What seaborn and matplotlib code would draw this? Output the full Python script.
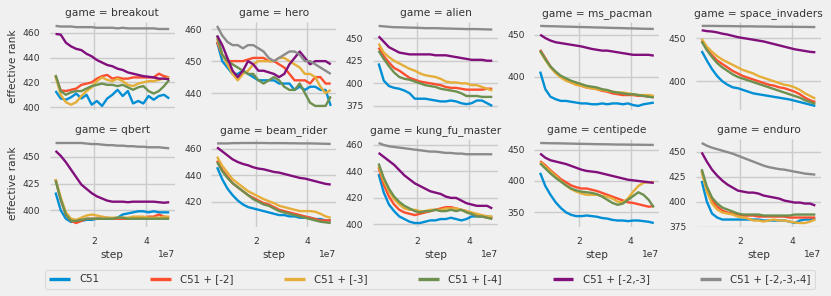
import numpy as np
import pandas as pd
import matplotlib
matplotlib.use('Agg')
import matplotlib.pyplot as plt
import seaborn as sns
from matplotlib.lines import Line2D
from matplotlib.ticker import MaxNLocator

steps = [5e6, 7e6, 9e6, 11e6, 13e6, 15e6, 17e6, 19e6, 21e6, 23e6, 25e6, 27e6,
         29e6, 31e6, 33e6, 35e6, 37e6, 39e6, 41e6, 43e6, 45e6, 47e6, 49e6]

games = ['breakout', 'hero', 'alien', 'ms_pacman', 'space_invaders',
         'qbert', 'beam_rider', 'kung_fu_master', 'centipede', 'enduro']
series = ['C51', 'C51 + [-2]', 'C51 + [-3]', 'C51 + [-4]', 'C51 + [-2,-3]', 'C51 + [-2,-3,-4]']
colors = ['#008fd5', '#fc4f30', '#e5ae38', '#6d904f', '#810f7c', '#8b8b8b']

breakout = [
    [413, 407, 406, 408, 411, 407, 410, 402, 405, 401, 407, 410, 414, 409, 413, 403, 405, 403, 409, 406, 409, 410, 407],
    [425, 413.5, 413, 414, 415, 418, 419, 420, 423, 425, 426, 423, 424, 423, 423, 424, 424, 424, 424, 424, 427, 425, 424],
    [425, 410, 404, 402, 404, 409, 413, 416, 421, 424, 422, 421, 423, 421, 418, 417, 419, 420, 421, 421, 422, 423, 424],
    [426, 413, 410, 412, 413, 413, 415, 417, 418, 419, 418, 418, 417, 418, 416, 414, 416, 417, 413, 411, 413, 417, 422],
    [459, 458.5, 452, 449, 447, 446, 443, 441, 438, 436, 434, 433, 431, 430, 428, 427, 426, 425, 424.5, 424, 423, 423, 422.5],
    [465.5, 465, 465, 465, 464.5, 464.5, 464.5, 464.5, 464, 464, 464, 464, 463.5, 464, 463.5, 463.5, 463.5, 463.5, 463.5, 463.5, 463, 463, 463],
]
hero = [
    [456, 450, 448, 446, 446, 447, 446, 445, 444, 444, 444, 444, 443, 443, 443, 441, 442, 441, 442, 442, 441, 441, 436],
    [456, 452, 450, 450, 450, 450, 450.5, 451, 451, 451, 450, 450, 449, 448, 446, 444, 444, 444, 443, 445, 445, 443, 443],
    [457, 452, 449, 446, 444, 446, 447, 449, 450, 450, 450, 450, 451, 451, 450, 449, 448, 446, 446, 445, 442, 440, 441],
    [458, 452, 450, 449, 448, 447, 446, 446, 444, 443, 444, 445, 444, 442, 441, 441, 443, 440, 437, 436, 436, 436, 439],
    [458, 455, 451, 447, 445, 447, 450, 449, 447, 447, 446.5, 446, 445, 446, 449, 451, 453, 451, 449, 450, 450, 450, 449],
    [461, 458, 456, 455, 455, 454, 455, 455, 454, 453, 451, 450, 451, 452, 453, 453, 452, 450, 450, 449, 448, 447, 446],
]
alien = [
    [422, 403, 397, 395, 394, 392, 389, 383, 383, 383, 382, 381, 380, 380, 381, 380, 378, 377, 378, 381, 381, 378, 375],
    [439.5, 430, 423, 417, 414, 410, 406, 404, 402, 401, 400, 399, 398, 396, 395, 395, 394, 393, 393, 393, 393, 394, 394],
    [444, 434, 429, 425, 422, 419, 416, 414, 411, 409, 408, 407, 405, 402, 401, 401, 400, 400, 398, 398, 396, 394, 392],
    [436, 427, 419, 412, 407, 405, 404, 402, 400, 398, 397, 396, 394, 393, 392, 391, 389, 386, 386, 386, 385, 385, 385],
    [452, 446, 440, 437, 434, 433, 432, 432, 432, 432, 432, 431, 431, 431, 430, 429, 428, 427, 426, 426, 426, 425, 425],
    [463.5, 463, 462.5, 462, 462, 461.8, 461.6, 461.5, 461.3, 461, 461, 461, 460.8, 460.6, 460.5, 460.3, 460.2, 460, 460, 460, 459.8, 459.6, 459.5],
]
ms_pacman = [
    [406, 385, 376, 373, 371, 371, 370, 369, 368, 368, 367, 367, 368, 367, 368, 368, 367, 368, 366, 365, 367, 368, 369],
    [432, 422, 412, 405, 400, 396, 393, 391, 389, 387, 386, 385, 383, 382, 380, 379, 378, 378, 378, 377, 377, 376, 376],
    [430, 420, 411, 404, 399, 395, 393, 390, 389, 387, 386, 385, 384, 383, 382, 381, 381, 380, 379, 378, 378, 378, 377],
    [431, 421, 412, 406, 401, 398, 395, 393, 391, 389, 388, 387, 385, 384, 382, 381, 380, 379, 379, 378, 377, 376, 375],
    [450, 446, 443, 441, 440, 439, 438, 437, 436, 434.5, 433, 432, 431, 431, 430, 429, 428, 427, 426, 426, 426, 426, 425],
    [460.5, 460.3, 460.1, 460, 459.8, 459.6, 459.5, 459.3, 459.1, 459, 458.8, 458.6, 458.5, 458.3, 458.1, 458, 457.8, 457.6, 457.5, 457.3, 457.1, 457, 456.9],
]
space_invaders = [
    [435, 424, 414, 406, 400, 396, 393, 392, 390, 388, 386, 385, 384, 383, 382, 381, 380, 379, 377.5, 376, 374.5, 373, 371.5],
    [447, 437, 430, 424, 420, 416, 412, 409, 406, 404, 402, 400, 398, 396, 395, 393, 392, 390, 388, 385, 381, 378, 376],
    [449, 440, 434, 429, 425, 422, 419, 416, 413, 411, 409, 406, 404, 402, 400, 398, 396, 395, 393, 390, 386, 383, 380],
    [446, 436, 428, 421, 416, 412, 408, 405, 403, 401, 399, 397, 395, 393, 391, 389, 387, 385, 383, 381, 378, 376, 374],
    [459, 458, 457.5, 456.5, 455, 454, 452.5, 451, 450, 449, 448, 447, 446, 444.5, 443, 441.5, 440, 438.5, 437, 436, 435, 434, 433.5],
    [464, 464, 464, 463.9, 463.8, 463.8, 463.7, 463.6, 463.5, 463.5, 463.4, 463.3, 463.3, 463.2, 463.1, 463, 463, 463, 462.9, 462.8, 462.8, 462.7, 462.7],
]
qbert = [
    [416.6, 400, 392, 389, 390, 390, 391, 391, 392, 392, 392, 392, 393, 396, 397, 398, 399, 399, 398, 399, 398, 398, 398],
    [429, 410, 396, 390, 388, 390, 392, 392, 392, 392, 393, 392, 392, 392, 392, 393, 393, 393, 394, 394, 396, 394, 393],
    [429, 412, 398, 392, 391, 393, 395, 396, 395, 394, 393, 393, 393, 393, 393, 394, 394, 394, 393, 393, 393, 394, 394],
    [428, 410, 396, 390, 390, 391, 392, 392, 392, 392, 392, 392, 393, 393, 392, 392, 392, 392, 392, 392, 392, 392, 392],
    [455.6, 451, 445, 438, 431, 424, 420, 416, 413, 411, 409, 408, 408, 408, 407.5, 408, 408, 408, 408, 408, 407.5, 407, 407.5],
    [463, 463, 463, 463, 463, 463, 462.5, 462, 462, 461.5, 461, 461, 460.5, 460.5, 460, 460, 459.5, 459.5, 459, 459, 459, 458.5, 458],
]
beam_rider = [
    [446, 437, 430, 425, 421, 418, 416, 415, 414, 413, 412, 411, 410, 410, 409, 409, 408, 408, 408, 407, 407, 406, 406],
    [451, 444, 439, 434, 431, 428, 425, 423, 421, 419, 418, 416, 414, 413, 412, 411, 410, 409, 408, 407, 406, 406, 406],
    [454, 447, 442, 437, 434, 431, 428, 426, 424, 422, 420.5, 419, 417, 416, 415, 414, 413, 413, 413, 412.5, 411, 409, 408],
    [450, 443, 438, 434, 431, 428, 425, 422, 420, 418, 417, 415, 413, 412, 411, 410, 409, 408, 407, 406, 405, 404.5, 404],
    [461, 458, 455, 452, 450, 448.5, 447.5, 446, 445, 444.5, 443.5, 442.5, 442, 441, 440, 439, 438, 437.5, 436.5, 435.5, 434.5, 433.5, 433],
    [464, 464, 464, 464.2, 464.2, 464.3, 464.3, 464.3, 464.3, 464.3, 464.2, 464.2, 464.2, 464.2, 464.1, 464.1, 464, 464, 464, 463.9, 463.8, 463.7, 463.6],
]
kung_fu_master = [
    [438, 424, 415, 410, 406, 404, 402, 401, 401, 402, 403, 403, 404, 404, 405, 404, 403, 404, 406, 406, 406, 406, 405],
    [443, 430, 421, 415, 411, 409, 408, 407, 408, 409, 410, 411, 412, 413, 413, 412, 411, 410, 408, 407, 406, 405, 405],
    [444, 433, 425, 419, 415, 412, 411, 411, 410, 410, 411, 411, 411, 412, 412, 412, 411, 410, 409, 408, 407, 406, 406],
    [446, 435, 427, 421, 417, 414, 412, 410, 409, 410, 410, 411, 410, 410, 411, 410, 411, 409, 408, 406, 406, 405, 404],
    [454, 451, 448, 445, 441, 437, 434, 431, 429, 427, 425, 424, 423, 421, 420, 420, 418, 416, 415, 414, 414, 414, 412],
    [461.5, 460, 459, 458.5, 458, 457.5, 457, 456.5, 456, 455.5, 455, 455, 454.5, 454, 454, 453.5, 453.5, 453, 453, 453, 453, 453, 453],
]
centipede = [
    [413, 392, 378, 366, 357, 350, 346, 344, 344, 345, 344, 343, 341, 340, 338, 337, 337, 336, 337, 337, 336, 335, 333],
    [431.6, 425, 417, 410, 403, 398, 393, 390, 388, 388, 386, 384, 381, 378, 375, 372, 369, 366, 365, 363, 361, 359, 360],
    [430, 423, 415, 408, 400, 393, 387, 383, 380, 378, 378, 378, 376, 375, 372, 367, 366, 372, 383, 392, 397, 398, 398],
    [428, 420, 412, 405, 399, 393, 388, 385, 383, 382, 381, 379, 375, 370, 365, 362, 364, 370, 376, 382, 378, 370, 358],
    [443.7, 437, 433, 431, 429, 427, 424, 421, 418, 416, 415, 414, 412, 410, 408, 406, 404, 402, 401, 400, 399, 398, 397],
    [460.5, 460.3, 460.1, 460, 459.9, 459.7, 459.5, 459.3, 459.1, 459, 458.8, 458.6, 458.5, 458.4, 458.2, 458, 458, 457.9, 457.8, 457.7, 457.6, 457.5, 457.4],
]
enduro = [
    [420.7, 400, 388, 384, 382, 382, 382, 382, 382, 382, 382, 382, 381, 381, 381, 381, 381, 380, 378.5, 381, 382, 382, 383],
    [431, 412, 401, 395, 391, 389, 388, 387, 386, 386, 386, 385, 385, 385, 385, 385, 385, 384, 384, 384, 384, 384, 384],
    [430, 410, 398, 392, 389, 388, 387, 385, 384, 383, 381, 381, 380, 381, 382, 381, 381, 380, 379, 378.5, 378.5, 380, 382],
    [432.5, 415, 404, 398, 394, 392, 390, 388, 387, 387, 387, 387, 386, 386, 386, 386, 386, 386, 387, 387, 387, 387, 387],
    [449.3, 440, 432, 426, 421, 417, 414, 411, 410, 409, 409, 408, 406, 405, 404, 403, 401, 400, 399, 399, 398, 398, 396],
    [458.7, 456, 454, 452.5, 451, 449.5, 448, 446, 444, 442, 440, 438, 436, 434.5, 433.5, 432.5, 432, 431, 430, 429, 428, 427.5, 427],
]

tables = [breakout, hero, alien, ms_pacman, space_invaders,
          qbert, beam_rider, kung_fu_master, centipede, enduro]

rows = []
for game, table in zip(games, tables):
    for name, vals in zip(series, table):
        for x, v in zip(steps, vals):
            rows.append((game, name, x, v))
df = pd.DataFrame(rows, columns=['game', 'method', 'step', 'effective rank'])

plt.style.use('fivethirtyeight')
plt.rcParams.update({
    'font.family': ['DejaVu Sans'],
    'figure.facecolor': '#f0f0f0',
    'axes.facecolor': '#f0f0f0',
    'savefig.facecolor': '#f0f0f0',
    'grid.color': '#cbcbcb',
    'grid.linewidth': 1.0,
    'axes.labelsize': 7.6,
    'xtick.labelsize': 6.6,
    'ytick.labelsize': 6.6,
    'axes.labelcolor': '#333333',
    'xtick.color': '#333333',
    'ytick.color': '#333333',
    'xtick.major.size': 0,
    'ytick.major.size': 0,
    'xtick.major.pad': 7,
    'ytick.major.pad': 7,
    'axes.labelpad': 3,
})

g = sns.relplot(data=df, x='step', y='effective rank', hue='method',
                col='game', col_wrap=5, kind='line', palette=colors,
                hue_order=series, col_order=games, legend=False,
                facet_kws=dict(sharey=False, sharex=True),
                height=1.3, aspect=1.4, linewidth=1.7)
g.set_titles('{col_var} = {col_name}', size=7.7, pad=4, color='#333333')
fig = g.figure
fig.set_size_inches(8.31, 2.96)
fig.subplots_adjust(left=0.060, right=0.988, top=0.926, bottom=0.233,
                    wspace=0.292, hspace=0.33)
for ax in g.axes.flat:
    ax.grid(True)
    ax.yaxis.set_major_locator(MaxNLocator(nbins=4, steps=[1, 2, 2.5, 5, 10]))
    for s in ax.spines.values():
        s.set_visible(False)
    ax.xaxis.get_offset_text().set_fontsize(6.6)
    ax.xaxis.get_offset_text().set_color('#333333')

handles = [Line2D([0], [0], color=c, lw=2.4) for c in colors]
leg = fig.legend(handles, series, loc='lower left', ncol=6, mode='expand',
                 bbox_to_anchor=(0.054, 0.024, 0.927, 0.068),
                 frameon=True, fontsize=7.4, handlelength=2.0,
                 borderpad=0.45, handletextpad=0.9, borderaxespad=0)
for t in leg.get_texts():
    t.set_color('#333333')
leg.get_frame().set_facecolor('#f0f0f0')
leg.get_frame().set_edgecolor('#d4d4d4')
leg.get_frame().set_linewidth(0.8)

fig.savefig('out.png', dpi=100)
